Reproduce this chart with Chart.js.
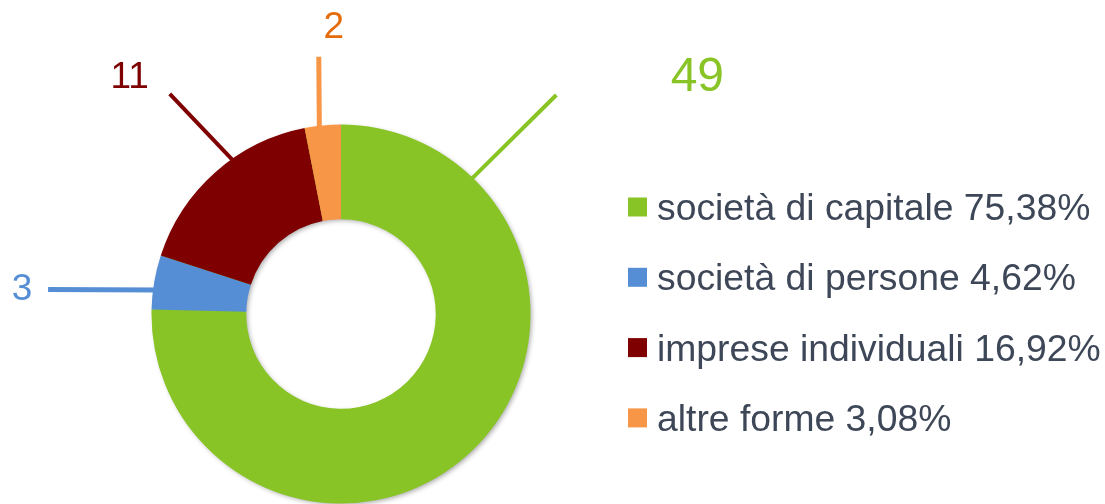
<!DOCTYPE html>
<html>
<head>
<meta charset="utf-8">
<script src="https://cdn.jsdelivr.net/npm/chart.js@4/dist/chart.umd.min.js"></script>
<style>
  html, body { margin: 0; padding: 0; background: #fff; }
  #wrap { width: 1105px; height: 504px; position: relative; }
</style>
</head>
<body>
<div id="wrap"><canvas id="forme" width="1105" height="504"></canvas></div>
<script>
// data
const categories = ["società di capitale", "società di persone", "imprese individuali", "altre forme"];
const counts = [49, 3, 11, 2];
const sliceColors = ["#88c425", "#558ed5", "#7f0000", "#f79646"];
const labelColors = ["#88c425", "#558ed5", "#7f0000", "#e46c0a"];

const FONT = "'Liberation Sans', Arial, sans-serif";

// leader lines: start angle on the outer edge (deg), line vector, label offset from line end
const leaders = [
  { angle: -46,   dx: 83,   dy: -82, lw: 4, tx: 141, ty: -4,  size: 48 },
  { angle: 187.4, dx: -104, dy: 0,   lw: 5, tx: -26, ty: 11,  size: 37 },
  { angle: -125,  dx: -62,  dy: -64, lw: 4, tx: -40, ty: -6,  size: 37 },
  { angle: -96.7, dx: 0,    dy: -68, lw: 5, tx: 15,  ty: -19, size: 37 }
];

const total = counts.reduce((a, b) => a + b, 0);
const pct = v => (v / total * 100).toFixed(2).replace(".", ",") + "%";

const ringShadow = {
  id: "ringShadow",
  beforeDatasetsDraw(chart) {
    const arc = chart.getDatasetMeta(0).data[0];
    if (!arc) return;
    const { x, y, innerRadius, outerRadius } = arc.getProps(["x", "y", "innerRadius", "outerRadius"], true);
    const ctx = chart.ctx;
    ctx.save();
    ctx.shadowColor = "rgba(0,0,0,0.35)";
    ctx.shadowBlur = 5;
    ctx.shadowOffsetX = 2;
    ctx.shadowOffsetY = 2;
    ctx.beginPath();
    ctx.arc(x, y, outerRadius - 1, 0, Math.PI * 2);
    ctx.arc(x, y, innerRadius + 1, 0, Math.PI * 2, true);
    ctx.fillStyle = sliceColors[0];
    ctx.fill();
    ctx.restore();
  }
};

const leaderLabels = {
  id: "leaderLabels",
  afterDatasetsDraw(chart) {
    const ctx = chart.ctx;
    const meta = chart.getDatasetMeta(0);
    meta.data.forEach((arc, i) => {
      const { x, y, outerRadius } = arc.getProps(["x", "y", "outerRadius"], true);
      const L = leaders[i];
      const a = L.angle * Math.PI / 180;
      const sx = x + Math.cos(a) * (outerRadius + 1);
      const sy = y + Math.sin(a) * (outerRadius + 1);
      const ex = sx + L.dx, ey = sy + L.dy;
      ctx.save();
      ctx.strokeStyle = sliceColors[i];
      ctx.lineWidth = L.lw;
      ctx.beginPath();
      ctx.moveTo(sx - Math.cos(a) * 5, sy - Math.sin(a) * 5);
      ctx.lineTo(ex, ey);
      ctx.stroke();
      ctx.fillStyle = labelColors[i];
      ctx.font = L.size + "px " + FONT;
      ctx.textAlign = "center";
      ctx.textBaseline = "alphabetic";
      ctx.fillText(String(counts[i]), ex + L.tx, ey + L.ty);
      ctx.restore();
    });
  }
};

const sideLegend = {
  id: "sideLegend",
  afterDraw(chart) {
    const ctx = chart.ctx;
    const left = 628, box = 19, top = 207, step = 70.3;
    ctx.save();
    ctx.font = "37.3px " + FONT;
    ctx.textAlign = "left";
    ctx.textBaseline = "alphabetic";
    categories.forEach((c, i) => {
      const cy = top + i * step;
      ctx.fillStyle = sliceColors[i];
      ctx.fillRect(left, cy - box / 2, box, box);
      ctx.fillStyle = "#3d4757";
      ctx.fillText(c + " " + pct(counts[i]), left + box + 10, cy + 13);
    });
    ctx.restore();
  }
};

new Chart(document.getElementById("forme"), {
  type: "doughnut",
  data: {
    labels: categories,
    datasets: [{
      data: counts,
      backgroundColor: sliceColors,
      borderWidth: 0,
      hoverOffset: 0,
      offset: 0
    }]
  },
  options: {
    responsive: false,
    animation: false,
    cutout: "50%",
    layout: { padding: { left: 151.5, right: 574.5, top: 124.5, bottom: 0.5 } },
    plugins: {
      legend: { display: false },
      tooltip: { enabled: false }
    }
  },
  plugins: [ringShadow, leaderLabels, sideLegend]
});
</script>
</body>
</html>
